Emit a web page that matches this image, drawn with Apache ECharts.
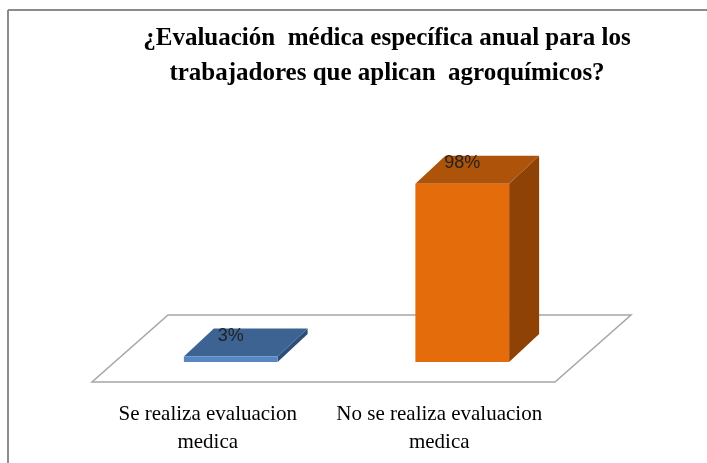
<!DOCTYPE html>
<html>
<head>
<meta charset="utf-8">
<script src="https://cdn.jsdelivr.net/npm/echarts@6/dist/echarts.min.js"></script>
<style>
html,body{margin:0;padding:0;background:#fff;}
#chart{width:707px;height:463px;}
</style>
</head>
<body>
<div id="chart"></div>
<script>
const titleText = '¿Evaluación  médica específica anual para los\ntrabajadores que aplican  agroquímicos?';
const categories = ['Se realiza evaluacion\nmedica', 'No se realiza evaluacion\nmedica'];
const values = [3, 98];

const palette = [
  { front: '#5686C4', top: '#3D6393', side: '#2E4E78' },
  { front: '#E46C0A', top: '#AD530A', side: '#8E4206' }
];
const DEPTH_X = 30, DEPTH_Y = -28;       // bar depth
const FLOOR_X = 76, FLOOR_Y = -67;       // floor depth

const chart = echarts.init(document.getElementById('chart'), null, { renderer: 'canvas' });

function renderBar(params, api) {
  const i = api.value(0), v = api.value(1);
  const top = api.coord([i, v]);
  const base = api.coord([i, 0]);
  const w = api.size([1, 0])[0] * 0.405;
  const x0 = top[0] - w / 2, x1 = top[0] + w / 2;
  const yb = base[1], yt = top[1];
  const c = palette[i];
  return {
    type: 'group',
    children: [
      { type: 'polygon', shape: { points: [[x1, yb], [x1 + DEPTH_X, yb + DEPTH_Y], [x1 + DEPTH_X, yt + DEPTH_Y], [x1, yt]] }, style: { fill: c.side } },
      { type: 'polygon', shape: { points: [[x0, yt], [x1, yt], [x1 + DEPTH_X, yt + DEPTH_Y], [x0 + DEPTH_X, yt + DEPTH_Y]] }, style: { fill: c.top } },
      { type: 'polygon', shape: { points: [[x0, yb], [x1, yb], [x1, yt], [x0, yt]] }, style: { fill: c.front } },
      { type: 'text', style: { text: v + '%', x: top[0], y: yt + DEPTH_Y + 7, align: 'center', verticalAlign: 'middle', fill: '#222', font: '18px "Liberation Sans", Arial, sans-serif' } }
    ]
  };
}

function renderFloor(params, api) {
  const bw = api.size([1, 0])[0];
  const l = api.coord([0, 0]);
  const r = api.coord([categories.length - 1, 0]);
  const xl = l[0] - bw / 2, xr = r[0] + bw / 2, y = l[1];
  return {
    type: 'polygon',
    shape: { points: [[xl, y], [xr, y], [xr + FLOOR_X, y + FLOOR_Y], [xl + FLOOR_X, y + FLOOR_Y]] },
    style: { fill: '#fff', stroke: '#a6a6a6', lineWidth: 1.5 }
  };
}

chart.setOption({
  animation: false,
  backgroundColor: '#fff',
  title: {
    text: titleText,
    left: 382,
    top: 16,
    textAlign: 'center',
    textStyle: {
      fontFamily: '"Liberation Serif", "Times New Roman", serif',
      fontWeight: 'bold',
      fontSize: 25,
      lineHeight: 35,
      color: '#000'
    }
  },
  graphic: [
    { type: 'line', shape: { x1: 8, y1: 10, x2: 707, y2: 10 }, style: { stroke: '#8c8c8c', lineWidth: 2 } },
    { type: 'line', shape: { x1: 8, y1: 10, x2: 8, y2: 463 }, style: { stroke: '#8c8c8c', lineWidth: 2 } }
  ],
  grid: [
    { left: 115, width: 463, top: 180, bottom: 101 },
    { left: 92, width: 463, bottom: 81, height: 10 }
  ],
  xAxis: [
    { type: 'category', gridIndex: 0, data: categories, show: false },
    {
      type: 'category', gridIndex: 1, data: categories,
      axisLine: { show: false }, axisTick: { show: false }, splitLine: { show: false },
      axisLabel: {
        margin: 18, interval: 0, color: '#000',
        fontFamily: '"Liberation Serif", "Times New Roman", serif',
        fontSize: 21, lineHeight: 28
      }
    }
  ],
  yAxis: [
    { type: 'value', gridIndex: 0, min: 0, max: 100, show: false },
    { type: 'value', gridIndex: 1, min: 0, max: 1, show: false }
  ],
  series: [
    {
      type: 'custom', xAxisIndex: 1, yAxisIndex: 1, z: 1, silent: true,
      renderItem: renderFloor,
      data: [[0, 0]]
    },
    {
      type: 'custom', xAxisIndex: 0, yAxisIndex: 0, z: 2, silent: true,
      renderItem: renderBar,
      data: values.map((v, i) => [i, v])
    }
  ]
});
</script>
</body>
</html>
